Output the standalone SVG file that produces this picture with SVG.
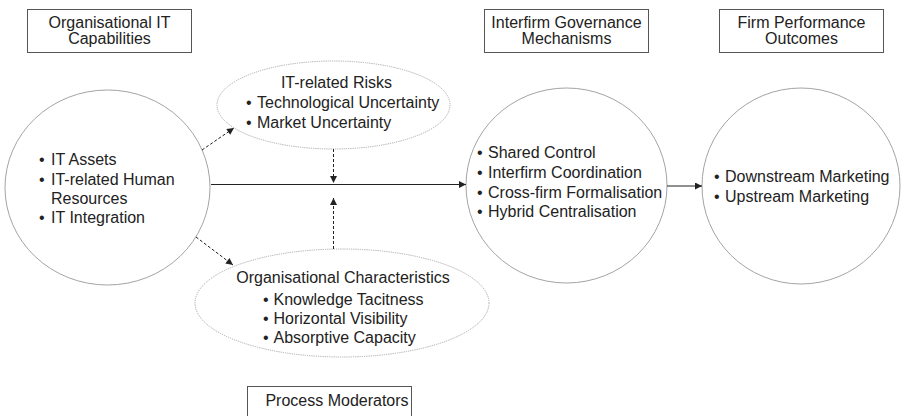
<svg xmlns="http://www.w3.org/2000/svg" width="902" height="416" viewBox="0 0 902 416">
<defs>
<marker id="ah" viewBox="0 0 10 10" refX="10" refY="5" markerWidth="8" markerHeight="7" markerUnits="userSpaceOnUse" orient="auto">
<path d="M0,0 L10,5 L0,10 z" fill="#222"/>
</marker>
<style>
text{font-family:"Liberation Sans",Arial,sans-serif;font-size:16px;fill:#222}
.c{text-anchor:middle}
.box{fill:#fff;stroke:#555;stroke-width:1}
.circ{fill:none;stroke:#999;stroke-width:0.9}
.ell{fill:none;stroke:#aaa;stroke-width:1;stroke-dasharray:1.2 1}
.ln{fill:none;stroke:#222;stroke-width:1}
.dash{fill:none;stroke:#222;stroke-width:1;stroke-dasharray:3 2}
</style>
</defs>
<rect width="902" height="416" fill="#fff"/>

<g id="label-capabilities">
<rect class="box" x="27.5" y="9.5" width="164" height="43"/>
<text class="c" x="109.5" y="27.5">Organisational IT</text>
<text class="c" x="109.5" y="44">Capabilities</text>
</g>
<g id="label-governance">
<rect class="box" x="484.5" y="9.5" width="164" height="43"/>
<text class="c" x="566.5" y="27.5">Interfirm Governance</text>
<text class="c" x="566.5" y="44">Mechanisms</text>
</g>
<g id="label-performance">
<rect class="box" x="719.5" y="9.5" width="164" height="43"/>
<text class="c" x="801.5" y="27.5">Firm Performance</text>
<text class="c" x="801.5" y="44">Outcomes</text>
</g>
<g id="label-moderators">
<rect class="box" x="247.5" y="386.5" width="164" height="43"/>
<text class="c" x="337" y="406">Process Moderators</text>
</g>

<g id="it-capabilities">
<ellipse class="circ" cx="107.5" cy="187.5" rx="102.5" ry="97.5"/>
<text y="165"><tspan x="39">•</tspan><tspan x="51">IT Assets</tspan></text>
<text y="184.5"><tspan x="39">•</tspan><tspan x="51">IT-related Human</tspan></text>
<text x="51" y="203.5">Resources</text>
<text y="222.5"><tspan x="39">•</tspan><tspan x="51">IT Integration</tspan></text>
</g>

<g id="it-risks">
<ellipse class="ell" cx="333.5" cy="105" rx="116.5" ry="44"/>
<text class="c" x="336.5" y="88">IT-related Risks</text>
<text y="108"><tspan x="246">•</tspan><tspan x="257">Technological Uncertainty</tspan></text>
<text y="128"><tspan x="246">•</tspan><tspan x="257">Market Uncertainty</tspan></text>
</g>

<g id="org-characteristics">
<ellipse class="ell" cx="342" cy="303" rx="147" ry="54"/>
<text class="c" x="343" y="283">Organisational Characteristics</text>
<text y="304.5"><tspan x="263">•</tspan><tspan x="273.5">Knowledge Tacitness</tspan></text>
<text y="323.5"><tspan x="263">•</tspan><tspan x="273.5">Horizontal Visibility</tspan></text>
<text y="342.5"><tspan x="263">•</tspan><tspan x="273.5">Absorptive Capacity</tspan></text>
</g>

<g id="governance">
<ellipse class="circ" cx="566.5" cy="185.5" rx="100.5" ry="97.5"/>
<text y="158"><tspan x="477">•</tspan><tspan x="488">Shared Control</tspan></text>
<text y="177.5"><tspan x="477">•</tspan><tspan x="488">Interfirm Coordination</tspan></text>
<text y="197.5"><tspan x="477">•</tspan><tspan x="488">Cross-firm Formalisation</tspan></text>
<text y="217"><tspan x="477">•</tspan><tspan x="488">Hybrid Centralisation</tspan></text>
</g>

<g id="performance">
<ellipse class="circ" cx="801" cy="186" rx="99" ry="98"/>
<text y="182"><tspan x="714">•</tspan><tspan x="725">Downstream Marketing</tspan></text>
<text y="202"><tspan x="714">•</tspan><tspan x="725">Upstream Marketing</tspan></text>
</g>

<g id="connectors">
<line class="ln" x1="211" y1="184.5" x2="466" y2="184.5" marker-end="url(#ah)"/>
<line class="ln" x1="667" y1="186" x2="702" y2="186" marker-end="url(#ah)"/>
<line class="dash" x1="202" y1="150" x2="234" y2="128" marker-end="url(#ah)"/>
<line class="dash" x1="196" y1="237" x2="233" y2="265" marker-end="url(#ah)"/>
<line class="dash" x1="333.5" y1="149" x2="333.5" y2="183" marker-end="url(#ah)"/>
<line class="dash" x1="333.5" y1="249" x2="333.5" y2="198" marker-end="url(#ah)"/>
</g>
</svg>
